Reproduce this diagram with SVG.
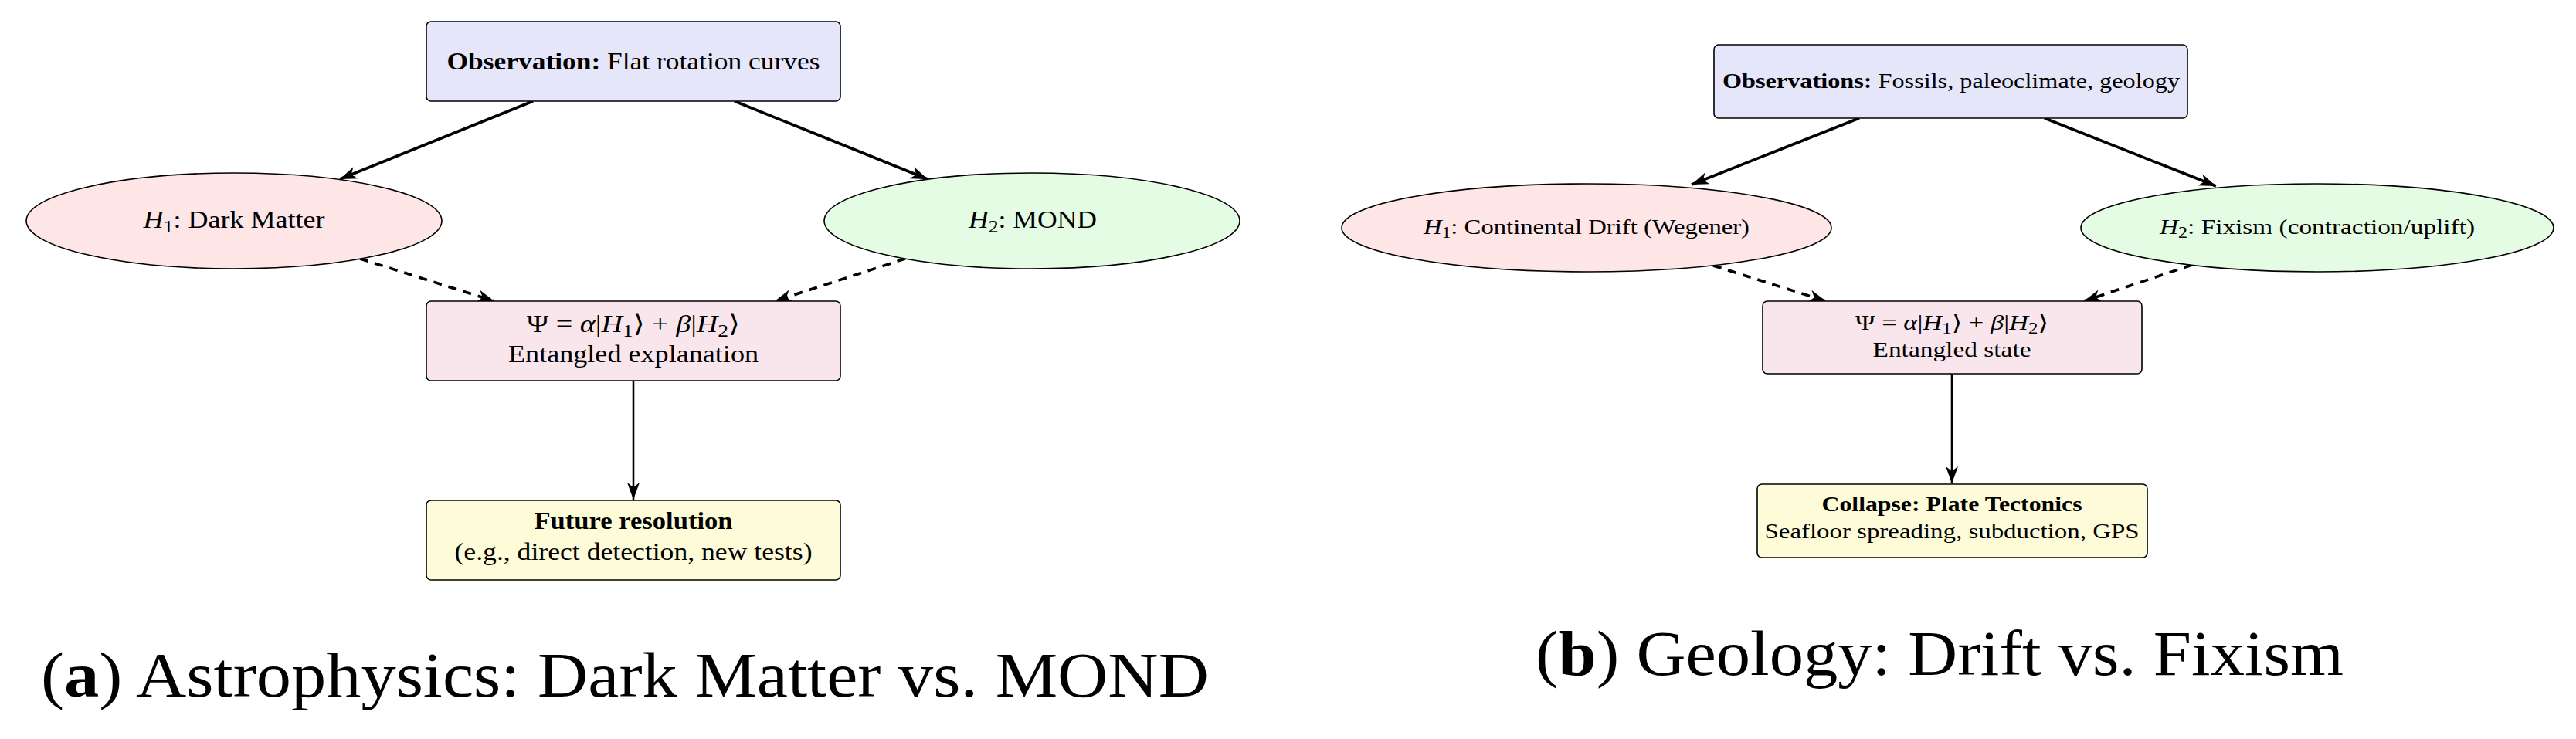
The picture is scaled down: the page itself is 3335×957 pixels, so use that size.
<svg xmlns="http://www.w3.org/2000/svg" width="3335" height="957" viewBox="0 0 3335 957">
<style>
text{font-family:"Liberation Serif","DejaVu Serif",serif;fill:#000}
.node{stroke:#000;stroke-width:1.6}
.obs{fill:#E6E6FA}
.h1{fill:#FEE5E6}
.h2{fill:#E4FBE4}
.ent{fill:#F8E6EC}
.res{fill:#FEFCD8}
.a{font-size:32px}
.b{font-size:28px}
.cap{font-size:82px}
.bd{font-weight:bold}
.it{font-style:italic}
.sub{font-size:0.72em}
.solid{fill:none;stroke:#000;stroke-width:3.6}
.dash{fill:none;stroke:#000;stroke-width:3.6;stroke-dasharray:11 9}
.vert{fill:none;stroke:#000;stroke-width:2.6}
</style>
<defs>
<marker id="ah" markerUnits="userSpaceOnUse" markerWidth="26" markerHeight="20" viewBox="-2 -10 26 20" refX="22" refY="0" orient="auto">
<path d="M0,-8 L22,0 L0,8 L6,0 Z" fill="#000"/>
</marker>
</defs>
<rect width="3335" height="957" fill="#fff"/>

<g id="connectors">
<line class="solid" x1="690" y1="131" x2="440" y2="232" marker-end="url(#ah)"/>
<line class="solid" x1="951" y1="131" x2="1201" y2="232" marker-end="url(#ah)"/>
<line class="dash" x1="466" y1="335" x2="640" y2="390" marker-end="url(#ah)"/>
<line class="dash" x1="1172" y1="335" x2="1003" y2="390" marker-end="url(#ah)"/>
<line class="vert" x1="820" y1="493" x2="820" y2="647" marker-end="url(#ah)"/>
<line class="solid" x1="2407" y1="153" x2="2190" y2="239" marker-end="url(#ah)"/>
<line class="solid" x1="2647" y1="153" x2="2869" y2="241" marker-end="url(#ah)"/>
<line class="dash" x1="2218" y1="344" x2="2364" y2="390" marker-end="url(#ah)"/>
<line class="dash" x1="2838" y1="343" x2="2698" y2="390" marker-end="url(#ah)"/>
<line class="vert" x1="2527" y1="484" x2="2527" y2="626" marker-end="url(#ah)"/>
</g>

<g id="a-observation">
<rect class="node obs" x="552" y="28" width="536" height="103" rx="6"/>
<text class="a" x="820" y="90" text-anchor="middle" textLength="483" lengthAdjust="spacingAndGlyphs"><tspan class="bd">Observation:</tspan> Flat rotation curves</text>
</g>
<g id="a-h1">
<ellipse class="node h1" cx="303" cy="286" rx="269" ry="62"/>
<text class="a" x="303" y="295" text-anchor="middle" textLength="235" lengthAdjust="spacingAndGlyphs"><tspan class="it">H</tspan><tspan class="sub" dy="6">1</tspan><tspan dy="-6">: Dark Matter</tspan></text>
</g>
<g id="a-h2">
<ellipse class="node h2" cx="1336" cy="286" rx="269" ry="62"/>
<text class="a" x="1337" y="295" text-anchor="middle" textLength="166" lengthAdjust="spacingAndGlyphs"><tspan class="it">H</tspan><tspan class="sub" dy="6">2</tspan><tspan dy="-6">: MOND</tspan></text>
</g>
<g id="a-entangled">
<rect class="node ent" x="552" y="390" width="536" height="103" rx="6"/>
<text class="a" x="820" y="430" text-anchor="middle" textLength="276" lengthAdjust="spacingAndGlyphs">Ψ = <tspan class="it">α</tspan>|<tspan class="it">H</tspan><tspan class="sub" dy="6">1</tspan><tspan dy="-6">⟩ + </tspan><tspan class="it">β</tspan>|<tspan class="it">H</tspan><tspan class="sub" dy="6">2</tspan><tspan dy="-6">⟩</tspan></text>
<text class="a" x="820" y="469" text-anchor="middle" textLength="324" lengthAdjust="spacingAndGlyphs">Entangled explanation</text>
</g>
<g id="a-resolution">
<rect class="node res" x="552" y="648" width="536" height="103" rx="6"/>
<text class="a bd" x="820" y="685" text-anchor="middle" textLength="257" lengthAdjust="spacingAndGlyphs">Future resolution</text>
<text class="a" x="820" y="725" text-anchor="middle" textLength="463" lengthAdjust="spacingAndGlyphs">(e.g., direct detection, new tests)</text>
</g>
<g id="a-caption">
<text class="cap" x="53" y="902" textLength="1512" lengthAdjust="spacingAndGlyphs">(<tspan class="bd">a</tspan>) Astrophysics: Dark Matter vs. MOND</text>
</g>

<g id="b-observation">
<rect class="node obs" x="2219" y="58" width="613" height="95" rx="6"/>
<text class="b" x="2526" y="114" text-anchor="middle" textLength="592" lengthAdjust="spacingAndGlyphs"><tspan class="bd">Observations:</tspan> Fossils, paleoclimate, geology</text>
</g>
<g id="b-h1">
<ellipse class="node h1" cx="2054" cy="295" rx="317" ry="57"/>
<text class="b" x="2054" y="303" text-anchor="middle" textLength="422" lengthAdjust="spacingAndGlyphs"><tspan class="it">H</tspan><tspan class="sub" dy="5">1</tspan><tspan dy="-5">: Continental Drift (Wegener)</tspan></text>
</g>
<g id="b-h2">
<ellipse class="node h2" cx="3000" cy="295" rx="306" ry="57"/>
<text class="b" x="3000" y="303" text-anchor="middle" textLength="408" lengthAdjust="spacingAndGlyphs"><tspan class="it">H</tspan><tspan class="sub" dy="5">2</tspan><tspan dy="-5">: Fixism (contraction/uplift)</tspan></text>
</g>
<g id="b-entangled">
<rect class="node ent" x="2282" y="390" width="491" height="94" rx="6"/>
<text class="b" x="2527" y="427" text-anchor="middle" textLength="250" lengthAdjust="spacingAndGlyphs">Ψ = <tspan class="it">α</tspan>|<tspan class="it">H</tspan><tspan class="sub" dy="5">1</tspan><tspan dy="-5">⟩ + </tspan><tspan class="it">β</tspan>|<tspan class="it">H</tspan><tspan class="sub" dy="5">2</tspan><tspan dy="-5">⟩</tspan></text>
<text class="b" x="2527" y="462" text-anchor="middle" textLength="205" lengthAdjust="spacingAndGlyphs">Entangled state</text>
</g>
<g id="b-collapse">
<rect class="node res" x="2275" y="627" width="505" height="95" rx="6"/>
<text class="b bd" x="2527" y="662" text-anchor="middle" textLength="337" lengthAdjust="spacingAndGlyphs">Collapse: Plate Tectonics</text>
<text class="b" x="2527" y="697" text-anchor="middle" textLength="485" lengthAdjust="spacingAndGlyphs">Seafloor spreading, subduction, GPS</text>
</g>
<g id="b-caption">
<text class="cap" x="1988" y="874" textLength="1046" lengthAdjust="spacingAndGlyphs">(<tspan class="bd">b</tspan>) Geology: Drift vs. Fixism</text>
</g>
</svg>
